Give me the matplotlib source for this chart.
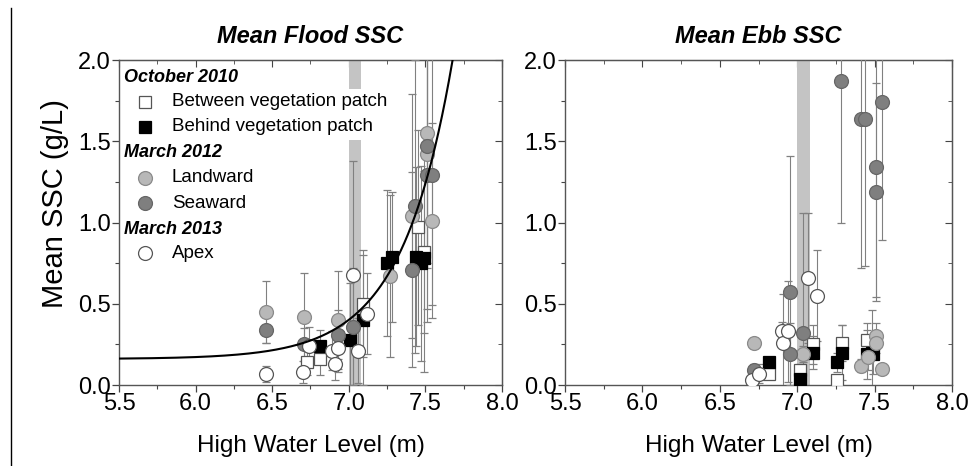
import numpy as np
import matplotlib
matplotlib.use("Agg")
import matplotlib.pyplot as plt
from matplotlib.lines import Line2D
from matplotlib.ticker import MultipleLocator

plt.rcParams['font.family'] = ['Liberation Sans', 'DejaVu Sans']

# ---------------- Flood data ----------------
fl_between_x = [6.73, 6.81, 7.09, 7.45, 7.49]
fl_between_y = [0.14, 0.16, 0.50, 0.97, 0.82]
fl_between_e = [0.08, 0.10, 0.33, 0.60, 0.50]

fl_behind_x = [6.81, 7.01, 7.09, 7.25, 7.28, 7.44, 7.47, 7.49]
fl_behind_y = [0.24, 0.28, 0.40, 0.75, 0.79, 0.79, 0.75, 0.78]
fl_behind_e = [0.10, 0.35, 0.40, 0.45, 0.40, 0.55, 0.60, 0.70]

fl_land_x = [6.46, 6.71, 6.93, 7.27, 7.41, 7.51, 7.51, 7.54]
fl_land_y = [0.45, 0.42, 0.40, 0.67, 1.04, 1.55, 1.42, 1.01]
fl_land_e = [0.19, 0.27, 0.30, 0.50, 0.75, 0.80, 0.70, 0.60]

fl_sea_x = [6.46, 6.71, 6.93, 7.03, 7.41, 7.43, 7.51, 7.51, 7.54]
fl_sea_y = [0.34, 0.25, 0.31, 0.36, 0.71, 1.10, 1.47, 1.29, 1.29]
fl_sea_e = [0.08, 0.10, 0.15, 0.36, 0.60, 0.90, 1.00, 0.90, 0.80]

fl_apex_x = [6.46, 6.70, 6.74, 6.89, 6.91, 6.93, 7.03, 7.06, 7.12]
fl_apex_y = [0.07, 0.08, 0.24, 0.21, 0.13, 0.23, 0.68, 0.21, 0.44]
fl_apex_e = [0.05, 0.07, 0.12, 0.12, 0.10, 0.15, 0.70, 0.20, 0.25]

# ---------------- Ebb data ----------------
eb_between_x = [6.82, 7.02, 7.10, 7.26, 7.29, 7.45]
eb_between_y = [0.07, 0.09, 0.25, 0.03, 0.26, 0.28]
eb_between_e = [0.03, 0.04, 0.12, 0.03, 0.11, 0.10]

eb_behind_x = [6.82, 7.02, 7.10, 7.26, 7.29, 7.45, 7.48, 7.49]
eb_behind_y = [0.14, 0.04, 0.20, 0.14, 0.20, 0.19, 0.20, 0.19]
eb_behind_e = [0.03, 0.04, 0.10, 0.06, 0.17, 0.15, 0.26, 0.12]

eb_land_x = [6.72, 7.04, 7.41, 7.46, 7.51, 7.51, 7.55]
eb_land_y = [0.26, 0.19, 0.12, 0.17, 0.30, 0.26, 0.10]
eb_land_e = [0.03, 0.05, 0.04, 0.08, 0.08, 0.06, 0.03]

eb_sea_x = [6.72, 6.95, 6.95, 7.04, 7.28, 7.41, 7.44, 7.51, 7.51, 7.55]
eb_sea_y = [0.09, 0.57, 0.19, 0.32, 1.87, 1.64, 1.64, 1.34, 1.19, 1.74]
eb_sea_e = [0.04, 0.84, 0.19, 0.74, 0.87, 0.92, 0.91, 0.80, 0.67, 0.85]

eb_apex_x = [6.71, 6.75, 6.90, 6.91, 6.94, 7.07, 7.13]
eb_apex_y = [0.03, 0.07, 0.33, 0.26, 0.33, 0.66, 0.55]
eb_apex_e = [0.03, 0.06, 0.06, 0.30, 0.31, 0.40, 0.28]

# exponential fit for flood: y = a + b*exp(c*(x - x0))
fit_a, fit_b, fit_c, fit_x0 = 0.16, 1.08, 3.0, 7.5
fit_xmin, fit_xmax = 5.5, 7.72

# high water band
band_x = [7.0, 7.08]

x_ticks = [5.5, 6.0, 6.5, 7.0, 7.5, 8.0]
y_ticks = [0.0, 0.5, 1.0, 1.5, 2.0]

styles = {
    'between': dict(marker='s', mfc='white', mec='#555555', ms=8.5),
    'behind': dict(marker='s', mfc='black', mec='black', ms=8.5),
    'land': dict(marker='o', mfc='#b8b8b8', mec='#8a8a8a', ms=10),
    'sea': dict(marker='o', mfc='#7f7f7f', mec='#666666', ms=10),
    'apex': dict(marker='o', mfc='white', mec='#555555', ms=10),
}

fig = plt.figure(figsize=(9.7, 4.66), dpi=100)
axL = fig.add_axes([0.1227, 0.1738, 0.3948, 0.6974])
axR = fig.add_axes([0.5825, 0.1738, 0.399, 0.6974])

flood = [('between', fl_between_x, fl_between_y, fl_between_e),
         ('behind', fl_behind_x, fl_behind_y, fl_behind_e),
         ('land', fl_land_x, fl_land_y, fl_land_e),
         ('sea', fl_sea_x, fl_sea_y, fl_sea_e),
         ('apex', fl_apex_x, fl_apex_y, fl_apex_e)]
ebb = [('between', eb_between_x, eb_between_y, eb_between_e),
       ('behind', eb_behind_x, eb_behind_y, eb_behind_e),
       ('land', eb_land_x, eb_land_y, eb_land_e),
       ('sea', eb_sea_x, eb_sea_y, eb_sea_e),
       ('apex', eb_apex_x, eb_apex_y, eb_apex_e)]

def style_axes(ax, title):
    ax.set_xlim(5.5, 8.0)
    ax.set_ylim(0.0, 2.0)
    ax.set_xticks(x_ticks)
    ax.set_yticks(y_ticks)
    ax.set_xticklabels([f"{v:.1f}" for v in x_ticks])
    ax.set_yticklabels([f"{v:.1f}" for v in y_ticks])
    ax.xaxis.set_minor_locator(MultipleLocator(0.25))
    ax.yaxis.set_minor_locator(MultipleLocator(0.25))
    ax.tick_params(which='major', direction='out', length=5, width=0.9,
                   labelsize=17, color='#444444', pad=1)
    ax.tick_params(which='minor', direction='out', length=3, width=0.8, color='#444444')
    for sp in ax.spines.values():
        sp.set_color('#555555')
        sp.set_linewidth(1.0)
    top = ax.secondary_xaxis('top')
    top.set_xticks(x_ticks)
    top.xaxis.set_minor_locator(MultipleLocator(0.25))
    top.tick_params(which='both', direction='in', labeltop=False, color='#444444')
    top.tick_params(which='major', length=5)
    top.tick_params(which='minor', length=3)
    top.spines['top'].set_color('#555555')
    right = ax.secondary_yaxis('right')
    right.set_yticks(y_ticks)
    right.yaxis.set_minor_locator(MultipleLocator(0.25))
    right.tick_params(which='both', direction='in', labelright=False, color='#444444')
    right.tick_params(which='major', length=5)
    right.tick_params(which='minor', length=3)
    right.spines['right'].set_color('#555555')
    ax.set_xlabel('High Water Level (m)', fontsize=17.5, labelpad=14)
    ax.set_title(title, fontsize=17, fontweight='bold', style='italic', pad=12)

def draw(ax, data):
    ax.axvspan(band_x[0], band_x[1], color='#c4c4c4', lw=0, zorder=1)
    for key, xs, ys, es in data:
        ax.errorbar(xs, ys, yerr=es, linestyle='none', ecolor='#808080',
                    elinewidth=0.8, capsize=3, capthick=0.8, zorder=3,
                    mew=0.9, **styles[key])

draw(axL, flood)
draw(axR, ebb)

xf = np.linspace(fit_xmin, fit_xmax, 300)
yf = fit_a + fit_b * np.exp(fit_c * (xf - fit_x0))
axL.plot(xf, yf, color='black', lw=1.5, zorder=4)

style_axes(axL, 'Mean Flood SSC')
style_axes(axR, 'Mean Ebb SSC')
axL.set_ylabel('Mean SSC (g/L)', fontsize=21, labelpad=4)
axL.yaxis.set_label_coords(-0.13, 0.557)

# legend built manually
tr = axL.transAxes
entries = [
    ('head', 'October 2010', 0.945),
    ('between', 'Between vegetation patch', 0.871),
    ('behind', 'Behind vegetation patch', 0.794),
    ('head', 'March 2012', 0.714),
    ('land', 'Landward', 0.637),
    ('sea', 'Seaward', 0.560),
    ('head', 'March 2013', 0.477),
    ('apex', 'Apex', 0.406),
]
for key, label, yy in entries:
    if key == 'head':
        axL.text(0.013, yy, label, transform=tr, fontsize=13, fontweight='bold',
                 style='italic', va='center', ha='left', zorder=6)
    else:
        axL.plot([0.068], [yy], transform=tr, linestyle='none', zorder=6,
                 mew=0.9, **styles[key])
        kw = {}
        if key in ('between', 'behind'):
            kw['bbox'] = dict(facecolor='white', edgecolor='none', pad=3.5)
        axL.text(0.138, yy, label, transform=tr, fontsize=13.5,
                 va='center', ha='left', zorder=5, **kw)

# left edge line artifact
fig.add_artist(Line2D([11 / 970, 11 / 970], [1 - 8 / 466, 0.0],
                      transform=fig.transFigure, color='black', lw=1))

fig.savefig('out.png', dpi=100)
